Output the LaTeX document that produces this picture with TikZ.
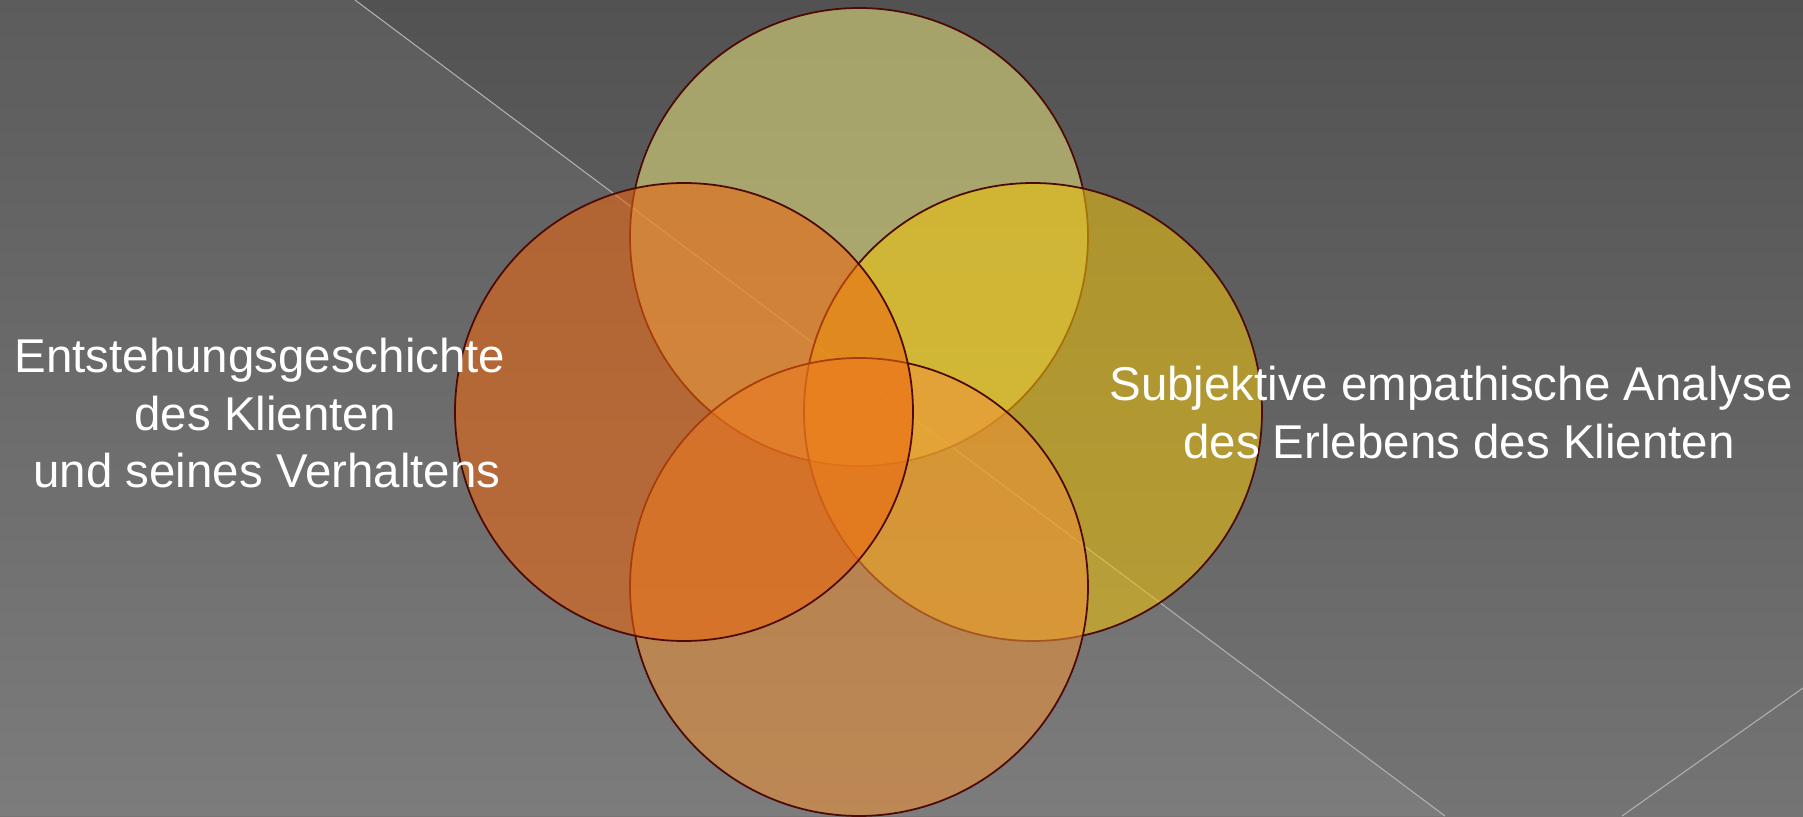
\documentclass[tikz,border=0pt]{standalone}
\usepackage{fontspec}
\setmainfont{Liberation Sans}
\definecolor{bgtop}{HTML}{525252}
\definecolor{bgbot}{HTML}{747474}
\definecolor{rim}{HTML}{4D0A05}
\definecolor{topc}{RGB}{230,226,123}
\definecolor{rightc}{RGB}{240,194,11}
\definecolor{botc}{RGB}{239,146,55}
\definecolor{leftc}{RGB}{237,102,14}
\tikzset{
  venn/.style={draw=rim,line width=0.5pt,fill opacity=0.56},
  label/.style={text=white,anchor=base,inner sep=0pt,font=\fontsize{13.5}{16.5}\selectfont},
  streak/.style={draw=white!55!bgtop,line width=0.3pt}
}
\begin{document}
\begin{tikzpicture}[x=1cm,y=1cm]
\useasboundingbox (0,0) rectangle (18.03,8.16);
\clip (0,0) rectangle (18.03,8.16);
% background
\shade[top color=bgtop,bottom color=bgbot] (0,0) rectangle (18.03,8.16);
\fill[white,opacity=0.06] (0,8.16) -- (3.55,8.16) -- (14.45,0) -- (0,0) -- cycle;
\draw[streak] (3.55,8.16) -- (14.45,0);
\draw[streak] (16.22,0) -- (18.03,1.28);

% four circles
\filldraw[venn,fill=topc] (8.59,5.79) circle (2.29);
\filldraw[venn,fill=rightc] (10.33,4.04) circle (2.29);
\filldraw[venn,fill=botc] (8.59,2.29) circle (2.29);
\filldraw[venn,fill=leftc] (6.84,4.04) circle (2.29);

% left text
\node[label] (hist1) at (2.60,4.44) {Entstehungsgeschichte};
\node[label] (hist2) at (2.65,3.86) {des Klienten};
\node[label] (hist3) at (2.67,3.29) {und seines Verhaltens};

% right text
\node[label] (emp1) at (14.51,4.16) {Subjektive empathische Analyse};
\node[label] (emp2) at (14.59,3.58) {des Erlebens des Klienten};
\end{tikzpicture}
\end{document}
